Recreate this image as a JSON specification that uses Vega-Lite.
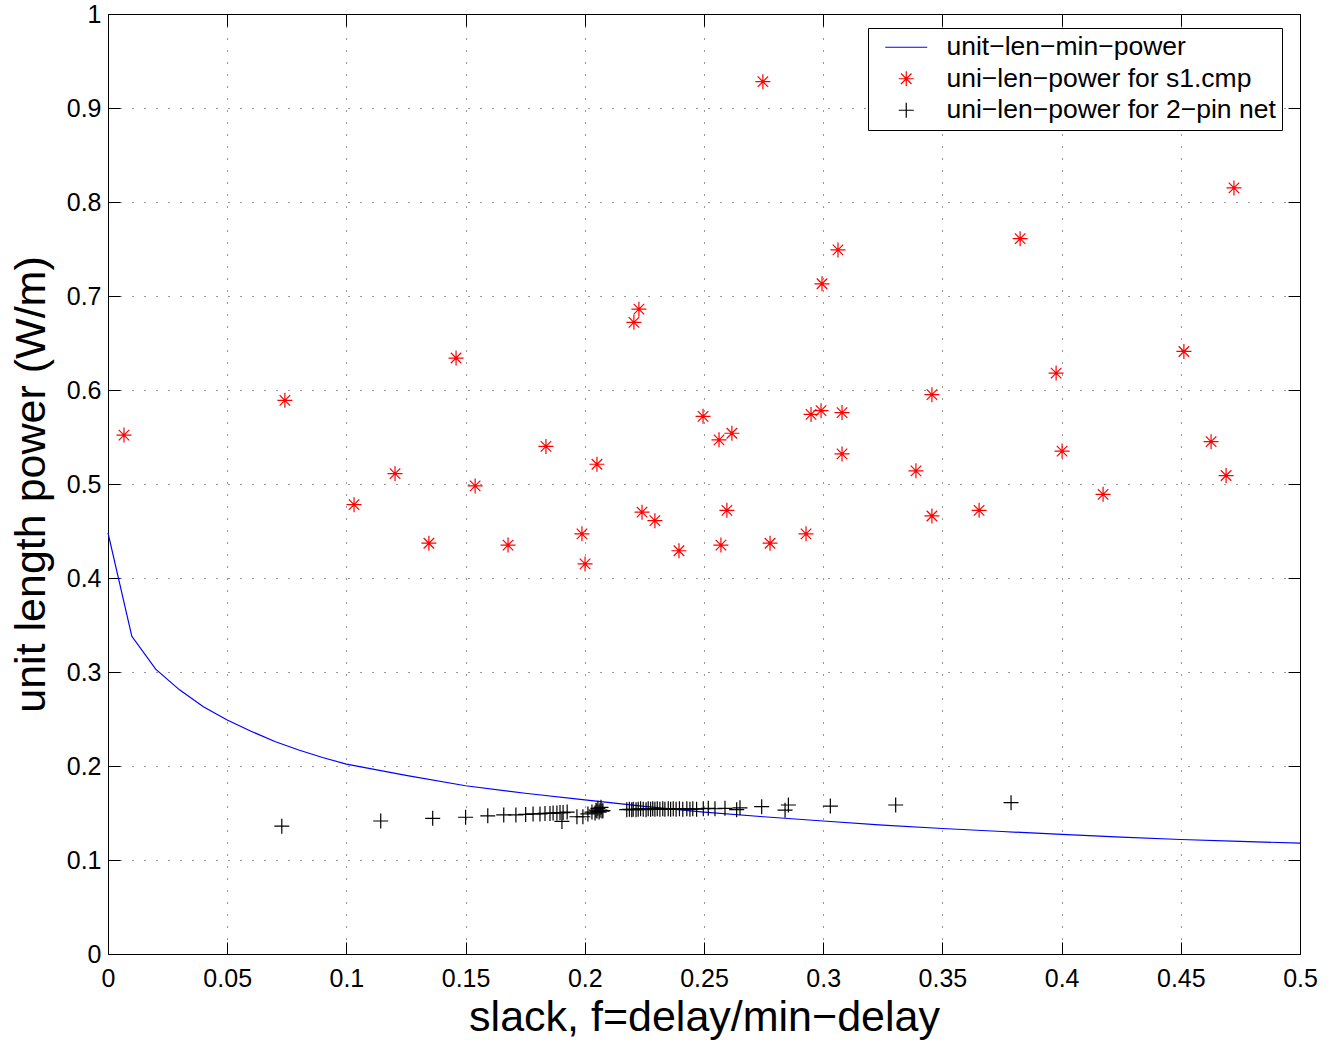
{
  "$schema": "https://vega.github.io/schema/vega-lite/v6.json",
  "width": 1192,
  "height": 940,
  "autosize": {"type": "none"},
  "padding": {"left": 108, "top": 14, "right": 39, "bottom": 90},
  "background": "white",
  "config": {
    "font": "Liberation Sans",
    "view": {"stroke": "black", "strokeWidth": 1},
    "axis": {
      "labelFont": "Liberation Sans",
      "titleFont": "Liberation Sans",
      "labelFontSize": 25,
      "labelColor": "black",
      "titleColor": "black",
      "titleFontWeight": "normal",
      "titleFontSize": 43,
      "tickColor": "black",
      "tickSize": -12,
      "tickWidth": 1,
      "domain": false,
      "gridColor": "black",
      "gridDash": [1, 11],
      "gridWidth": 1,
      "gridOpacity": 0.8,
      "labelFlush": false,
      "labelOverlap": false
    },
    "legend": {
      "labelFont": "Liberation Sans",
      "labelFontSize": 26.5,
      "labelColor": "black",
      "labelLimit": 0
    }
  },
  "datasets": {
    "curve": [
      {"x": 0, "y": 0.448},
      {"x": 0.01, "y": 0.338},
      {"x": 0.02, "y": 0.303},
      {"x": 0.03, "y": 0.281},
      {"x": 0.04, "y": 0.263},
      {"x": 0.05, "y": 0.249},
      {"x": 0.06, "y": 0.237},
      {"x": 0.07, "y": 0.226},
      {"x": 0.08, "y": 0.217},
      {"x": 0.09, "y": 0.209},
      {"x": 0.1, "y": 0.202},
      {"x": 0.125, "y": 0.19},
      {"x": 0.15, "y": 0.179},
      {"x": 0.175, "y": 0.171},
      {"x": 0.2, "y": 0.164},
      {"x": 0.225, "y": 0.157},
      {"x": 0.25, "y": 0.151},
      {"x": 0.275, "y": 0.146},
      {"x": 0.3, "y": 0.1415},
      {"x": 0.325, "y": 0.137},
      {"x": 0.35, "y": 0.1335},
      {"x": 0.375, "y": 0.1303},
      {"x": 0.4, "y": 0.1272},
      {"x": 0.425, "y": 0.1243},
      {"x": 0.45, "y": 0.1218},
      {"x": 0.475, "y": 0.1198},
      {"x": 0.5, "y": 0.118}
    ],
    "pts": [
      {"series": "uni−len−power for s1.cmp", "x": 0.0067, "y": 0.552},
      {"series": "uni−len−power for s1.cmp", "x": 0.0742, "y": 0.589},
      {"series": "uni−len−power for s1.cmp", "x": 0.1032, "y": 0.478},
      {"series": "uni−len−power for s1.cmp", "x": 0.1204, "y": 0.511},
      {"series": "uni−len−power for s1.cmp", "x": 0.1346, "y": 0.437},
      {"series": "uni−len−power for s1.cmp", "x": 0.146, "y": 0.634},
      {"series": "uni−len−power for s1.cmp", "x": 0.154, "y": 0.498},
      {"series": "uni−len−power for s1.cmp", "x": 0.1678, "y": 0.435},
      {"series": "uni−len−power for s1.cmp", "x": 0.1837, "y": 0.54},
      {"series": "uni−len−power for s1.cmp", "x": 0.1988, "y": 0.447},
      {"series": "uni−len−power for s1.cmp", "x": 0.2001, "y": 0.415},
      {"series": "uni−len−power for s1.cmp", "x": 0.2051, "y": 0.521},
      {"series": "uni−len−power for s1.cmp", "x": 0.2206, "y": 0.672},
      {"series": "uni−len−power for s1.cmp", "x": 0.2227, "y": 0.686},
      {"series": "uni−len−power for s1.cmp", "x": 0.224, "y": 0.47},
      {"series": "uni−len−power for s1.cmp", "x": 0.2294, "y": 0.461},
      {"series": "uni−len−power for s1.cmp", "x": 0.2395, "y": 0.429},
      {"series": "uni−len−power for s1.cmp", "x": 0.2496, "y": 0.572},
      {"series": "uni−len−power for s1.cmp", "x": 0.2563, "y": 0.547},
      {"series": "uni−len−power for s1.cmp", "x": 0.2571, "y": 0.435},
      {"series": "uni−len−power for s1.cmp", "x": 0.2617, "y": 0.554},
      {"series": "uni−len−power for s1.cmp", "x": 0.2596, "y": 0.472},
      {"series": "uni−len−power for s1.cmp", "x": 0.2747, "y": 0.928},
      {"series": "uni−len−power for s1.cmp", "x": 0.2777, "y": 0.437},
      {"series": "uni−len−power for s1.cmp", "x": 0.2928, "y": 0.447},
      {"series": "uni−len−power for s1.cmp", "x": 0.2949, "y": 0.574},
      {"series": "uni−len−power for s1.cmp", "x": 0.2991, "y": 0.578},
      {"series": "uni−len−power for s1.cmp", "x": 0.2995, "y": 0.713},
      {"series": "uni−len−power for s1.cmp", "x": 0.3062, "y": 0.749},
      {"series": "uni−len−power for s1.cmp", "x": 0.3079, "y": 0.576},
      {"series": "uni−len−power for s1.cmp", "x": 0.3079, "y": 0.532},
      {"series": "uni−len−power for s1.cmp", "x": 0.3389, "y": 0.514},
      {"series": "uni−len−power for s1.cmp", "x": 0.3456, "y": 0.595},
      {"series": "uni−len−power for s1.cmp", "x": 0.3456, "y": 0.466},
      {"series": "uni−len−power for s1.cmp", "x": 0.3654, "y": 0.472},
      {"series": "uni−len−power for s1.cmp", "x": 0.3826, "y": 0.761},
      {"series": "uni−len−power for s1.cmp", "x": 0.3977, "y": 0.618},
      {"series": "uni−len−power for s1.cmp", "x": 0.4002, "y": 0.535},
      {"series": "uni−len−power for s1.cmp", "x": 0.4174, "y": 0.489},
      {"series": "uni−len−power for s1.cmp", "x": 0.4513, "y": 0.641},
      {"series": "uni−len−power for s1.cmp", "x": 0.4627, "y": 0.545},
      {"series": "uni−len−power for s1.cmp", "x": 0.469, "y": 0.509},
      {"series": "uni−len−power for s1.cmp", "x": 0.4723, "y": 0.815},
      {"series": "uni−len−power for 2−pin net", "x": 0.0729, "y": 0.136},
      {"series": "uni−len−power for 2−pin net", "x": 0.1144, "y": 0.1415},
      {"series": "uni−len−power for 2−pin net", "x": 0.1362, "y": 0.1443},
      {"series": "uni−len−power for 2−pin net", "x": 0.15, "y": 0.1455},
      {"series": "uni−len−power for 2−pin net", "x": 0.1593, "y": 0.147},
      {"series": "uni−len−power for 2−pin net", "x": 0.166, "y": 0.148},
      {"series": "uni−len−power for 2−pin net", "x": 0.1711, "y": 0.148},
      {"series": "uni−len−power for 2−pin net", "x": 0.1752, "y": 0.1485},
      {"series": "uni−len−power for 2−pin net", "x": 0.1783, "y": 0.149},
      {"series": "uni−len−power for 2−pin net", "x": 0.1812, "y": 0.149},
      {"series": "uni−len−power for 2−pin net", "x": 0.1833, "y": 0.1495},
      {"series": "uni−len−power for 2−pin net", "x": 0.1854, "y": 0.1495},
      {"series": "uni−len−power for 2−pin net", "x": 0.1867, "y": 0.15},
      {"series": "uni−len−power for 2−pin net", "x": 0.1883, "y": 0.15},
      {"series": "uni−len−power for 2−pin net", "x": 0.1896, "y": 0.1505},
      {"series": "uni−len−power for 2−pin net", "x": 0.1904, "y": 0.141},
      {"series": "uni−len−power for 2−pin net", "x": 0.1909, "y": 0.1505},
      {"series": "uni−len−power for 2−pin net", "x": 0.1926, "y": 0.151},
      {"series": "uni−len−power for 2−pin net", "x": 0.1967, "y": 0.146},
      {"series": "uni−len−power for 2−pin net", "x": 0.1992, "y": 0.146},
      {"series": "uni−len−power for 2−pin net", "x": 0.2013, "y": 0.149},
      {"series": "uni−len−power for 2−pin net", "x": 0.203, "y": 0.151},
      {"series": "uni−len−power for 2−pin net", "x": 0.2043, "y": 0.15},
      {"series": "uni−len−power for 2−pin net", "x": 0.2047, "y": 0.153},
      {"series": "uni−len−power for 2−pin net", "x": 0.2051, "y": 0.152},
      {"series": "uni−len−power for 2−pin net", "x": 0.2055, "y": 0.155},
      {"series": "uni−len−power for 2−pin net", "x": 0.206, "y": 0.151},
      {"series": "uni−len−power for 2−pin net", "x": 0.2064, "y": 0.153},
      {"series": "uni−len−power for 2−pin net", "x": 0.2068, "y": 0.156},
      {"series": "uni−len−power for 2−pin net", "x": 0.2072, "y": 0.152},
      {"series": "uni−len−power for 2−pin net", "x": 0.2076, "y": 0.1525},
      {"series": "uni−len−power for 2−pin net", "x": 0.2176, "y": 0.1535},
      {"series": "uni−len−power for 2−pin net", "x": 0.2187, "y": 0.154},
      {"series": "uni−len−power for 2−pin net", "x": 0.2197, "y": 0.1535},
      {"series": "uni−len−power for 2−pin net", "x": 0.2203, "y": 0.154},
      {"series": "uni−len−power for 2−pin net", "x": 0.2215, "y": 0.1535},
      {"series": "uni−len−power for 2−pin net", "x": 0.2224, "y": 0.154},
      {"series": "uni−len−power for 2−pin net", "x": 0.2234, "y": 0.1545},
      {"series": "uni−len−power for 2−pin net", "x": 0.2245, "y": 0.154},
      {"series": "uni−len−power for 2−pin net", "x": 0.2257, "y": 0.1535},
      {"series": "uni−len−power for 2−pin net", "x": 0.2266, "y": 0.1545},
      {"series": "uni−len−power for 2−pin net", "x": 0.2276, "y": 0.154},
      {"series": "uni−len−power for 2−pin net", "x": 0.2285, "y": 0.1545},
      {"series": "uni−len−power for 2−pin net", "x": 0.2294, "y": 0.154},
      {"series": "uni−len−power for 2−pin net", "x": 0.2304, "y": 0.1545},
      {"series": "uni−len−power for 2−pin net", "x": 0.2315, "y": 0.154},
      {"series": "uni−len−power for 2−pin net", "x": 0.2327, "y": 0.1545},
      {"series": "uni−len−power for 2−pin net", "x": 0.2336, "y": 0.154},
      {"series": "uni−len−power for 2−pin net", "x": 0.235, "y": 0.1545},
      {"series": "uni−len−power for 2−pin net", "x": 0.236, "y": 0.154},
      {"series": "uni−len−power for 2−pin net", "x": 0.2371, "y": 0.1545},
      {"series": "uni−len−power for 2−pin net", "x": 0.2383, "y": 0.154},
      {"series": "uni−len−power for 2−pin net", "x": 0.2397, "y": 0.1545},
      {"series": "uni−len−power for 2−pin net", "x": 0.2411, "y": 0.154},
      {"series": "uni−len−power for 2−pin net", "x": 0.2428, "y": 0.1545},
      {"series": "uni−len−power for 2−pin net", "x": 0.2441, "y": 0.154},
      {"series": "uni−len−power for 2−pin net", "x": 0.2453, "y": 0.1545},
      {"series": "uni−len−power for 2−pin net", "x": 0.2469, "y": 0.154},
      {"series": "uni−len−power for 2−pin net", "x": 0.2497, "y": 0.1545},
      {"series": "uni−len−power for 2−pin net", "x": 0.2518, "y": 0.155},
      {"series": "uni−len−power for 2−pin net", "x": 0.2546, "y": 0.1545},
      {"series": "uni−len−power for 2−pin net", "x": 0.2588, "y": 0.155},
      {"series": "uni−len−power for 2−pin net", "x": 0.2637, "y": 0.1535},
      {"series": "uni−len−power for 2−pin net", "x": 0.2651, "y": 0.1555},
      {"series": "uni−len−power for 2−pin net", "x": 0.2742, "y": 0.1567},
      {"series": "uni−len−power for 2−pin net", "x": 0.284, "y": 0.153},
      {"series": "uni−len−power for 2−pin net", "x": 0.2854, "y": 0.1585},
      {"series": "uni−len−power for 2−pin net", "x": 0.303, "y": 0.1574},
      {"series": "uni−len−power for 2−pin net", "x": 0.3304, "y": 0.1585},
      {"series": "uni−len−power for 2−pin net", "x": 0.3788, "y": 0.161}
    ]
  },
  "layer": [
    {
      "data": {"name": "curve"},
      "mark": {"type": "line", "color": "#0000ff", "strokeWidth": 1.2},
      "encoding": {
        "x": {
          "field": "x", "type": "quantitative",
          "scale": {"domain": [0, 0.5], "nice": false, "zero": false},
          "axis": {
            "orient": "bottom",
            "values": [0, 0.05, 0.1, 0.15, 0.2, 0.25, 0.3, 0.35, 0.4, 0.45, 0.5],
            "format": "~g",
            "grid": true,
            "labelPadding": 24,
            "title": "slack, f=delay/min−delay",
            "titlePadding": 5
          }
        },
        "y": {
          "field": "y", "type": "quantitative",
          "scale": {"domain": [0, 1], "nice": false, "zero": false},
          "axis": {
            "orient": "left",
            "values": [0, 0.1, 0.2, 0.3, 0.4, 0.5, 0.6, 0.7, 0.8, 0.9, 1],
            "format": "~g",
            "grid": true,
            "labelPadding": 19,
            "title": "unit length power (W/m)",
            "titlePadding": 13
          }
        }
      }
    },
    {
      "data": {"name": "pts"},
      "mark": {"type": "point", "filled": false, "strokeWidth": 1.2, "opacity": 1, "size": 225},
      "encoding": {
        "x": {
          "field": "x", "type": "quantitative",
          "axis": {
            "orient": "top",
            "values": [0, 0.05, 0.1, 0.15, 0.2, 0.25, 0.3, 0.35, 0.4, 0.45, 0.5],
            "labels": false, "grid": false, "title": null
          }
        },
        "y": {
          "field": "y", "type": "quantitative",
          "axis": {
            "orient": "right",
            "values": [0, 0.1, 0.2, 0.3, 0.4, 0.5, 0.6, 0.7, 0.8, 0.9, 1],
            "labels": false, "grid": false, "title": null
          }
        },
        "color": {
          "field": "series", "type": "nominal",
          "scale": {
            "domain": ["unit−len−min−power", "uni−len−power for s1.cmp", "uni−len−power for 2−pin net"],
            "range": ["#0000ff", "#ff0000", "#000000"]
          },
          "legend": {
            "title": null,
            "orient": "none",
            "legendX": 760,
            "legendY": 14,
            "fillColor": "white",
            "strokeColor": "black",
            "padding": 6,
            "rowPadding": 4.5,
            "symbolOffset": 19,
            "labelOffset": 27,
            "symbolStrokeWidth": 1.2,
            "symbolSize": 225
          }
        },
        "shape": {
          "field": "series", "type": "nominal",
          "scale": {
            "domain": ["unit−len−min−power", "uni−len−power for s1.cmp", "uni−len−power for 2−pin net"],
            "range": ["M-2.8,0L2.8,0", "M-1,0L1,0M0,-1L0,1M-0.7,-0.7L0.7,0.7M-0.7,0.7L0.7,-0.7", "M-1,0L1,0M0,-1L0,1"]
          },
          "legend": {
            "title": null,
            "orient": "none",
            "legendX": 760,
            "legendY": 14
          }
        }
      }
    }
  ],
  "resolve": {"axis": {"x": "independent", "y": "independent"}}
}
